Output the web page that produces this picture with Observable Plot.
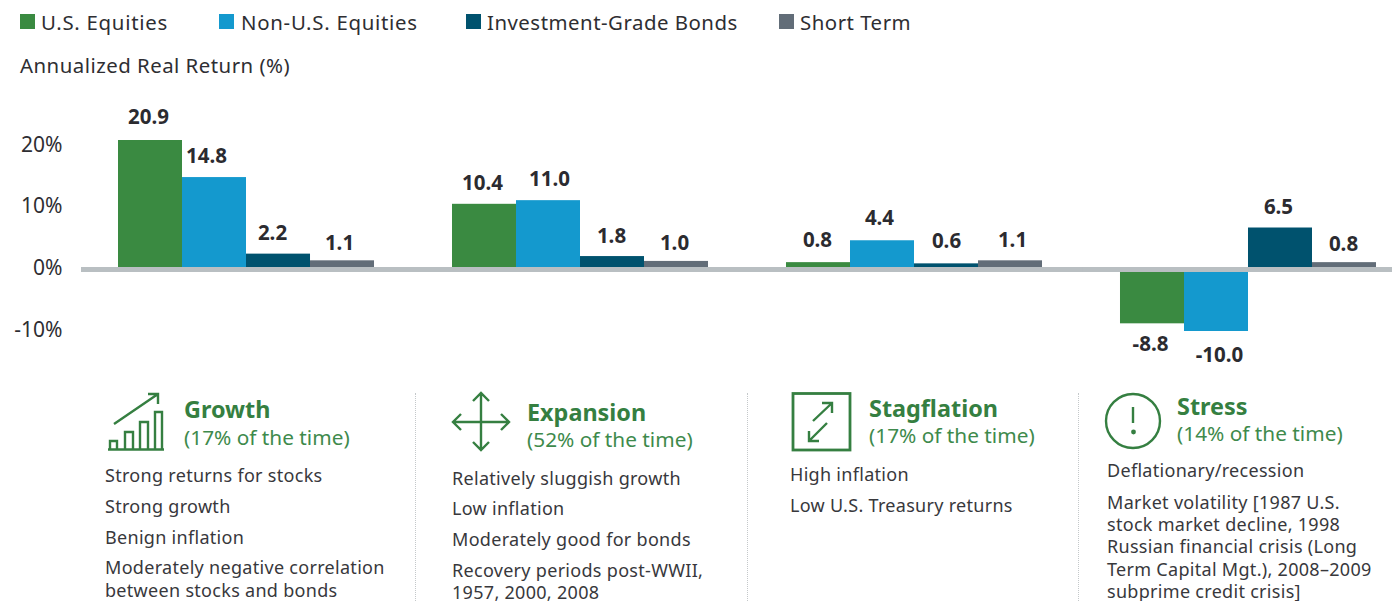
<!DOCTYPE html>
<html><head><meta charset="utf-8">
<script src="https://cdn.jsdelivr.net/npm/d3@7"></script>
<script src="https://cdn.jsdelivr.net/npm/@observablehq/plot@0.6"></script>
<style>
html,body{margin:0;padding:0;background:#fff}
#page{position:relative;width:1392px;height:601px;overflow:hidden;font-family:"Noto Sans",sans-serif;color:#2e2e32}
#page svg{position:absolute;left:0;top:0}
.t{position:absolute;white-space:nowrap;line-height:1;transform:translateY(calc(-50% - 1px))}
.sw{position:absolute;width:15px;height:15px;top:14px}
.leg{font-size:20.4px;letter-spacing:.55px}
.t.ttl{font-size:23.4px;font-weight:700;color:#357f41;transform:translateY(-50%)}
.sub{font-size:20.8px;color:#3e8a4c}
.ln{font-size:18px;letter-spacing:.3px;color:#38383c}
.sep{position:absolute;top:393px;height:208px;width:0;border-left:1.5px dotted #c4c8ca}
</style></head><body>
<div id="page"></div>
<script>
const regimes = ["Growth","Expansion","Stagflation","Stress"];
const assets = ["U.S. Equities","Non-U.S. Equities","Investment-Grade Bonds","Short Term"];
const colors = ["#3a8a41","#1499ce","#00526e","#626d78"];
const usEquities = [20.9,10.4,0.8,-8.8];
const nonUsEquities = [14.8,11.0,4.4,-10.0];
const bonds = [2.2,1.8,0.6,6.5];
const shortTerm = [1.1,1.0,1.1,0.8];
const yTicks = [-10,0,10,20];
const tickDy = [-1,1,0,-1];
const labelDx = [-2,-8,-6,-3, -2,1,-1,-2, -1,-3,0,2, -2,3,-2,-1];
const labelDy = [-23,-21,-21,-17, -21,-21,-20,-18, -22,-22,-22,-20, 21,24,-21,-18];

const series = [usEquities,nonUsEquities,bonds,shortTerm];
const rows = regimes.flatMap((r,i)=>assets.map((a,j)=>({regime:r,asset:a,value:series[j][i],dx:labelDx[i*4+j],dy:labelDy[i*4+j]})));

const chart = Plot.plot({
  width:1392,height:380,
  marginLeft:118,marginRight:16,marginTop:0,marginBottom:0,
  style:{fontFamily:'"Noto Sans",sans-serif',background:"transparent",overflow:"hidden"},
  fx:{domain:regimes,axis:null,paddingInner:0.2335,paddingOuter:0,round:false},
  x:{domain:assets,axis:null,padding:0,round:false},
  y:{type:"linear",domain:[-10,0,20.9],range:[331,267,140],clamp:false},
  color:{domain:assets,range:colors},
  marks:[
    ...yTicks.map((t,i)=>Plot.axisY({ticks:[t],anchor:"left",tickSize:0,tickPadding:56,label:null,tickFormat:d=>d+"%",
      fontSize:21,fill:"#2e2e32",facetAnchor:"left",dy:tickDy[i]})),
    Plot.barY(rows,{fx:"regime",x:"asset",y:"value",fill:"asset"}),
    Plot.ruleY([0],{stroke:"#b9bfc2",strokeWidth:5,dy:2,insetLeft:-37,insetRight:-78}),
    ...rows.map(r=>Plot.text([r],{fx:"regime",x:"asset",y:"value",text:d=>d.value.toFixed(1),
      dx:r.dx,dy:r.dy,fontSize:20.5,fontWeight:700,fill:"#2b2b30"}))
  ]
});
const page = document.getElementById("page");
page.appendChild(chart);

function add(cls,x,y,text,extra){
  const d=document.createElement("div");d.className=cls;d.style.left=x+"px";d.style.top=y+"px";
  if(text!=null)d.textContent=text;
  if(extra)Object.assign(d.style,extra);
  page.appendChild(d);return d;
}
[[20,41,.72],[219,241,.72],[466,487,.5],[779,800,.5]].forEach(([sx,tx,ls],i)=>{
  add("sw",sx,14,null,{background:colors[i]});
  add("t leg",tx,23,assets[i],{letterSpacing:ls+"px"});
});
add("t leg",20,65.5,"Annualized Real Return (%)",{letterSpacing:".48px"});

[415,747,1078].forEach(x=>add("sep",x,393));

const panels=[
 {x:184,ty:410,sy:438,title:"Growth",sub:"(17% of the time)",lx:105,lines:[["Strong returns for stocks",476],["Strong growth",507],["Benign inflation",538],["Moderately negative correlation",568],["between stocks and bonds",591]]},
 {x:527,ty:413,sy:440,title:"Expansion",sub:"(52% of the time)",lx:452,lines:[["Relatively sluggish growth",479],["Low inflation",509],["Moderately good for bonds",540],["Recovery periods post-WWII,",571],["1957, 2000, 2008",593]]},
 {x:869,ty:409,sy:436,title:"Stagflation",sub:"(17% of the time)",lx:790,lines:[["High inflation",475],["Low U.S. Treasury returns",506]]},
 {x:1177,ty:407,sy:434,title:"Stress",sub:"(14% of the time)",lx:1107,lines:[["Deflationary/recession",471],["Market volatility [1987 U.S.",503],["stock market decline, 1998",525],["Russian financial crisis (Long",547],["Term Capital Mgt.), 2008–2009",570],["subprime credit crisis]",592]]}
];
panels.forEach(p=>{
  add("t ttl",p.x,p.ty,p.title);add("t sub",p.x,p.sy,p.sub);
  p.lines.forEach(([s,y])=>add("t ln",p.lx,y,s));
});
const icons=document.createElement("div");
icons.innerHTML=`<svg width="1392" height="601" fill="none" stroke="#357f41" stroke-width="2.4">
<path d="M108 449.5H164"/>
<path d="M110 449V441H117V449M125 449V432H133V449M140 449V422H148V449M155 449V412H162V449"/>
<path d="M114 424L158 394M148 394H158V404"/>
<path d="M481 393V450M453 422H509M473 401L481 393L489 401M473 442L481 450L489 442M461 414L453 422L461 430M501 414L509 422L501 430"/>
<rect x="793" y="393.5" width="57" height="56.5" stroke-width="2.8"/>
<path d="M813 421L832 403M822 403H832V413M827 423L809 441M809 431V441H819"/>
<circle cx="1133" cy="421" r="27"/>
<path d="M1133 407V423"/>
<circle cx="1133.5" cy="432" r="2.4" fill="#357f41" stroke="none"/>
</svg>`;
page.appendChild(icons);
</script>
</body></html>
